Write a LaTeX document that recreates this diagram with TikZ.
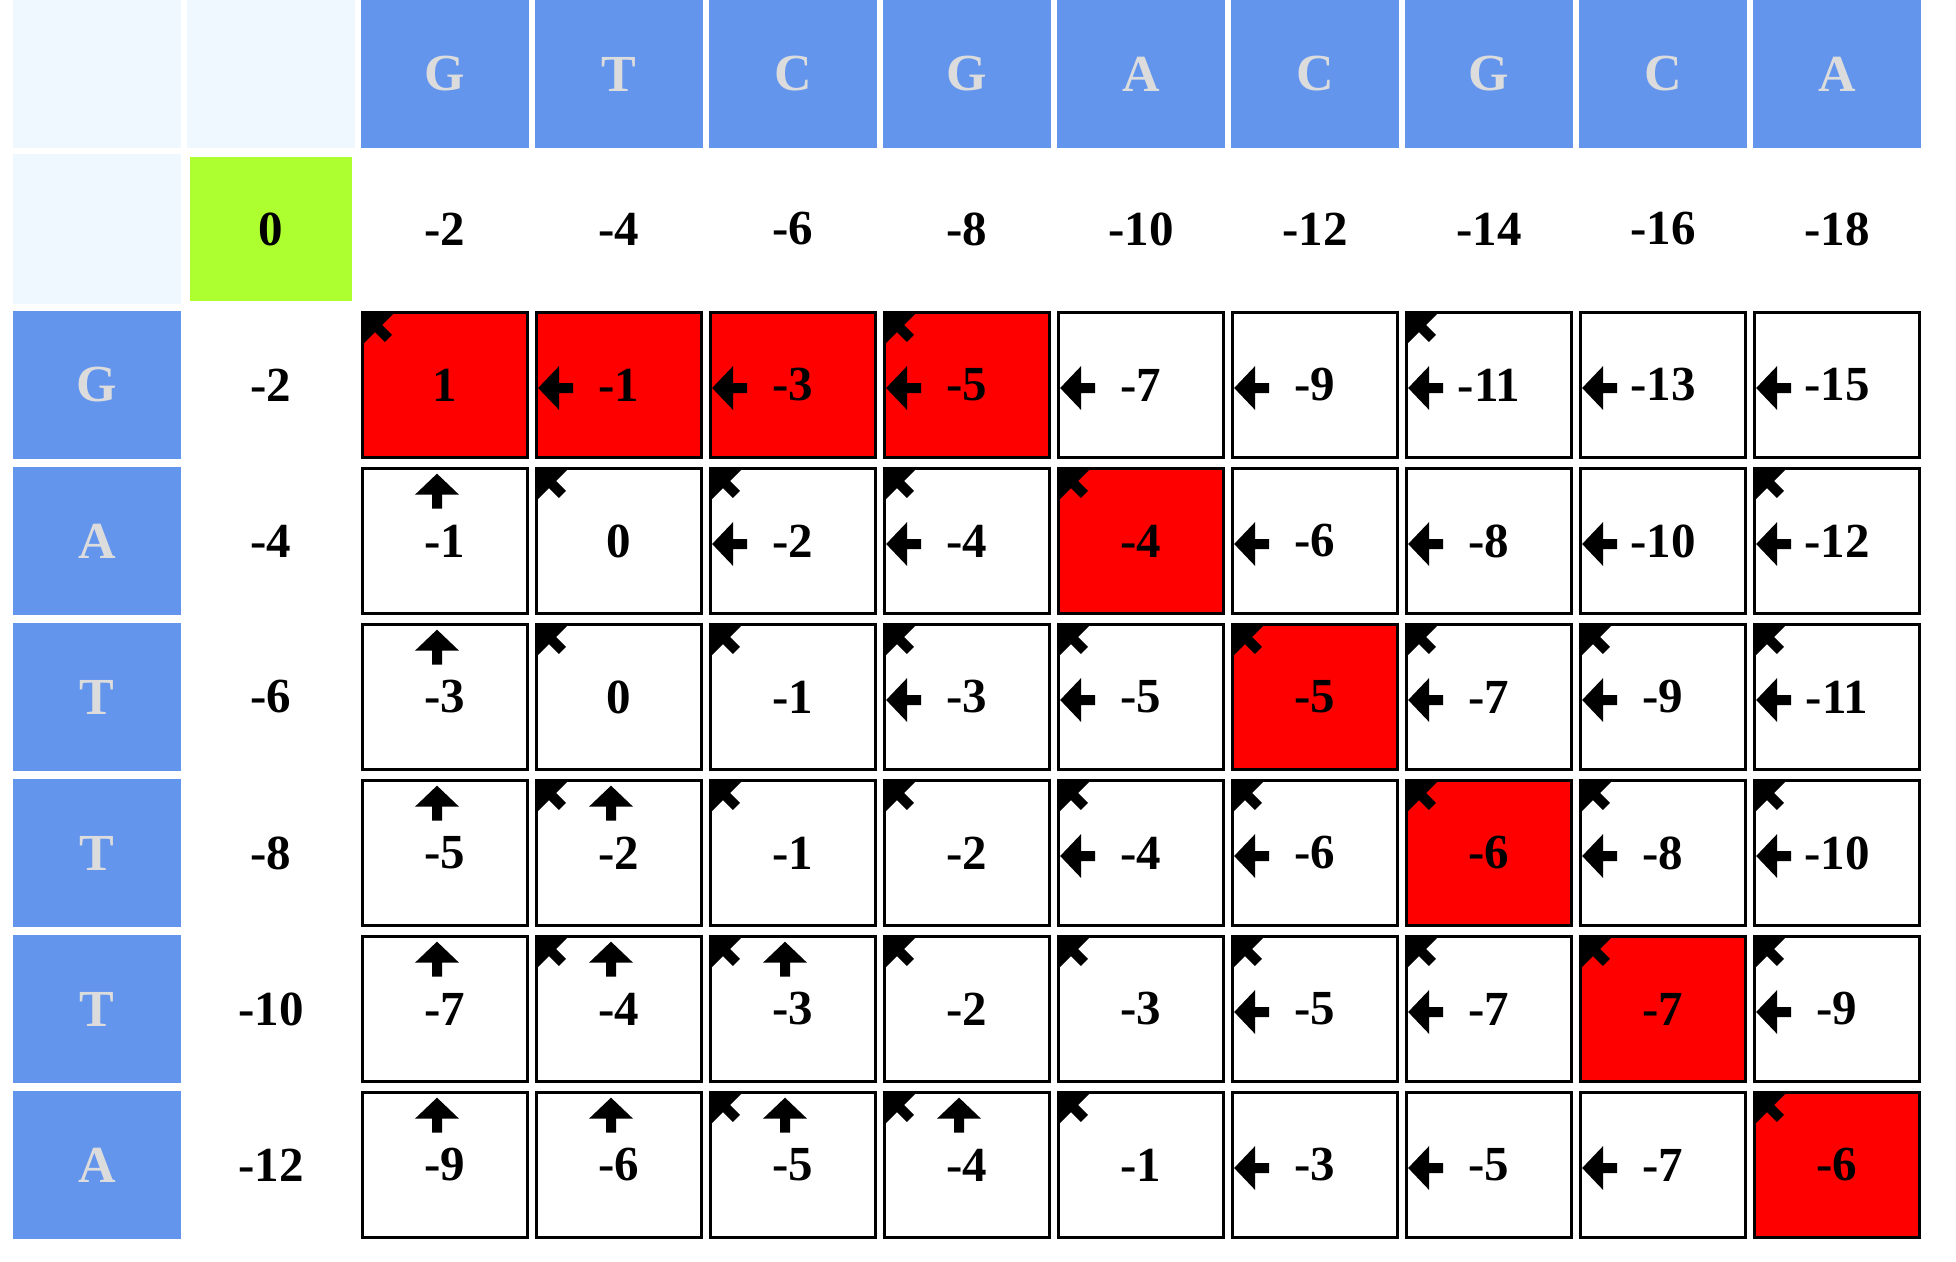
\documentclass[tikz,border=0pt]{standalone}
\usepackage{fontspec}
\setmainfont{Liberation Serif}

\definecolor{hdrblue}{HTML}{6495ED}
\definecolor{hdrgray}{HTML}{DCDCDC}
\definecolor{cornerblue}{HTML}{F0F8FF}
\definecolor{startgreen}{HTML}{ADFF2F}

\newcommand{\numfont}{\fontsize{49}{49}\selectfont\bfseries}
\newcommand{\letfont}{\fontsize{52}{52}\selectfont\bfseries}

\tikzset{
    corner/.style={fill=cornerblue, inner sep=0pt, outer sep=0pt,
        minimum width=168pt, minimum height=148pt},
    base/.style={fill=hdrblue, text=hdrgray, font=\letfont, inner sep=0pt,
        outer sep=0pt, minimum width=168pt, minimum height=148pt},
    start/.style={fill=startgreen, font=\numfont, inner sep=0pt, outer sep=0pt,
        minimum width=162pt, minimum height=144pt},
    score/.style={font=\numfont, inner sep=0pt},
    cellbox/.style={draw=black, line width=3.3pt, font=\numfont, inner sep=0pt,
        outer sep=0pt, minimum width=164.7pt, minimum height=144.7pt},
    trace/.pic={\fill (0,0) -- (22,21) -- (5,21) -- (5,35) -- (-5,35)
        -- (-5,21) -- (-22,21) -- cycle;}
}

\begin{document}
\begin{tikzpicture}[x=1pt, y=-1pt]
    \useasboundingbox (0,0) rectangle (1956,1261);

    % corner boxes and the start cell
    \node[corner] (k-0-0) at (97,74) {};
    \node[corner] (k-0-1) at (271,74) {};
    \node[corner, minimum height=150pt] (k-1-0) at (97,229) {};
    \node[start] (s) at (271,229) {0};

    % top sequence and first row
    \foreach \b [count=\c from 2] in {G,T,C,G,A,C,G,C,A}
    {
        \node[base] (h-\c) at ({97+174*\c},74) {\b};
        \pgfmathtruncatemacro{\g}{-2*(\c-1)}
        \node[score] (g-\c) at ({97+174*\c},229) {\g};
    }

    % left sequence, first column and the score cells
    \foreach \b/\init/\cells [count=\r from 2] in {
        G/-2/{1/1/0/0/red, -1/0/1/0/red, -3/0/1/0/red, -5/1/1/0/red, -7/0/1/0/white,
              -9/0/1/0/white, -11/1/1/0/white, -13/0/1/0/white, -15/0/1/0/white},
        A/-4/{-1/0/0/1/white, 0/1/0/0/white, -2/1/1/0/white, -4/1/1/0/white, -4/1/0/0/red,
              -6/0/1/0/white, -8/0/1/0/white, -10/0/1/0/white, -12/1/1/0/white},
        T/-6/{-3/0/0/1/white, 0/1/0/0/white, -1/1/0/0/white, -3/1/1/0/white, -5/1/1/0/white,
              -5/1/0/0/red, -7/1/1/0/white, -9/1/1/0/white, -11/1/1/0/white},
        T/-8/{-5/0/0/1/white, -2/1/0/1/white, -1/1/0/0/white, -2/1/0/0/white, -4/1/1/0/white,
              -6/1/1/0/white, -6/1/0/0/red, -8/1/1/0/white, -10/1/1/0/white},
        T/-10/{-7/0/0/1/white, -4/1/0/1/white, -3/1/0/1/white, -2/1/0/0/white, -3/1/0/0/white,
              -5/1/1/0/white, -7/1/1/0/white, -7/1/0/0/red, -9/1/1/0/white},
        A/-12/{-9/0/0/1/white, -6/0/0/1/white, -5/1/0/1/white, -4/1/0/1/white, -1/1/0/0/white,
              -3/0/1/0/white, -5/0/1/0/white, -7/0/1/0/white, -6/1/0/0/red}}
    {
        \node[base] (v-\r) at ({97},{385+156*(\r-2)}) {\b};
        \node[score] (g-\r-1) at ({271},{385+156*(\r-2)}) {\init};
        \foreach \v/\d/\l/\u/\fc [count=\c from 2] in \cells
        {
            \node[cellbox, fill=\fc] (c-\r-\c) at ({97+174*\c},{385+156*(\r-2)}) {\v};
            \ifnum\d=1 \pic[rotate=45] at ([shift={(1,1)}]c-\r-\c.north west) {trace}; \fi
            \ifnum\l=1 \pic[rotate=90] at ([shift={(1.5,3)}]c-\r-\c.west) {trace}; \fi
            \ifnum\u=1 \pic at ([shift={(-8,5)}]c-\r-\c.north) {trace}; \fi
        }
    }
\end{tikzpicture}
\end{document}
